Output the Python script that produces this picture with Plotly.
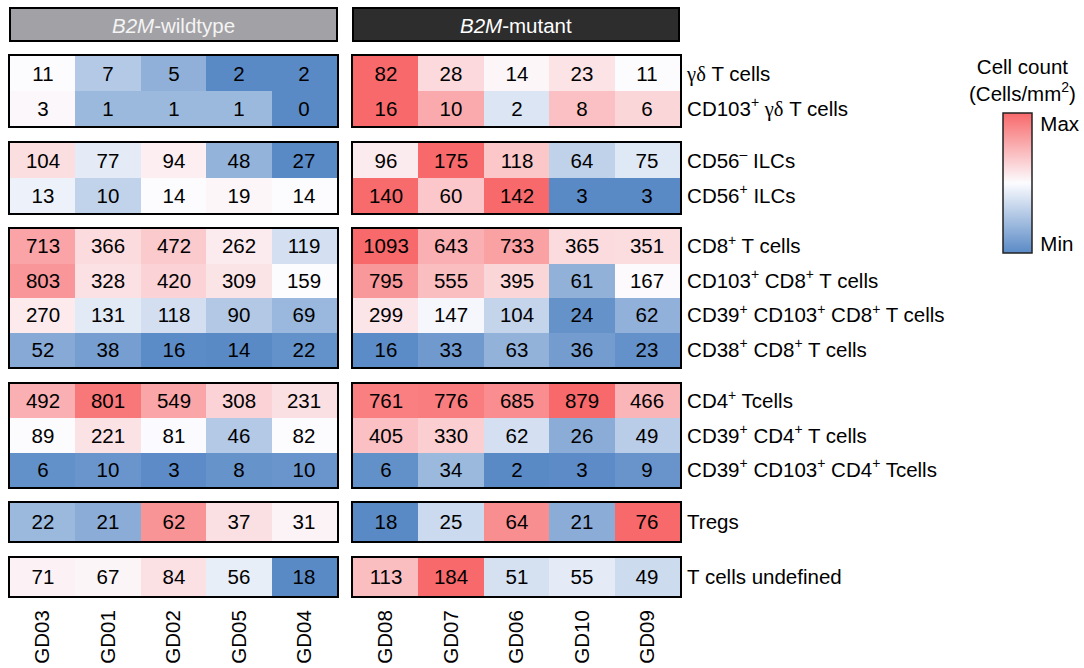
import numpy as np
import plotly.graph_objects as go

# ---------------- data ----------------
wt_samples = ["GD03", "GD01", "GD02", "GD05", "GD04"]
mut_samples = ["GD08", "GD07", "GD06", "GD10", "GD09"]

P = "<sup><span style='font-size:14px'>+</span></sup>"
M = "<sup><span style='font-size:14px'>–</span></sup>"
GD = "<span style=\"font-family:'Liberation Serif'\">γδ</span>"
row_labels = [
    f"{GD} T cells",
    f"CD103{P} {GD} T cells",
    f"CD56{M} ILCs",
    f"CD56{P} ILCs",
    f"CD8{P} T cells",
    f"CD103{P} CD8{P} T cells",
    f"CD39{P} CD103{P} CD8{P} T cells",
    f"CD38{P} CD8{P} T cells",
    f"CD4{P} Tcells",
    f"CD39{P} CD4{P} T cells",
    f"CD39{P} CD103{P} CD4{P} Tcells",
    "Tregs",
    "T cells undefined",
]

wt_values = [
    [11, 7, 5, 2, 2],
    [3, 1, 1, 1, 0],
    [104, 77, 94, 48, 27],
    [13, 10, 14, 19, 14],
    [713, 366, 472, 262, 119],
    [803, 328, 420, 309, 159],
    [270, 131, 118, 90, 69],
    [52, 38, 16, 14, 22],
    [492, 801, 549, 308, 231],
    [89, 221, 81, 46, 82],
    [6, 10, 3, 8, 10],
    [22, 21, 62, 37, 31],
    [71, 67, 84, 56, 18],
]
mut_values = [
    [82, 28, 14, 23, 11],
    [16, 10, 2, 8, 6],
    [96, 175, 118, 64, 75],
    [140, 60, 142, 3, 3],
    [1093, 643, 733, 365, 351],
    [795, 555, 395, 61, 167],
    [299, 147, 104, 24, 62],
    [16, 33, 63, 36, 23],
    [761, 776, 685, 879, 466],
    [405, 330, 62, 26, 49],
    [6, 34, 2, 3, 9],
    [18, 25, 64, 21, 76],
    [113, 184, 51, 55, 49],
]

# rows per boxed block, and rows sharing one min/median/max colour scale
block_sizes = [2, 2, 4, 3, 1, 1]
scale_groups = [[0], [1], [2], [3], [4, 5, 6, 7], [8, 9, 10], [11], [12]]

# ---------------- colour scaling (3-colour scale: min / median / max) ----------------
wt = np.array(wt_values, dtype=float)
mu = np.array(mut_values, dtype=float)
allv = np.hstack([wt, mu])
norm = np.zeros_like(allv)
for g in scale_groups:
    vals = allv[g, :]
    lo, md, hi = vals.min(), np.median(vals), vals.max()
    for r in g:
        for c in range(allv.shape[1]):
            v = allv[r, c]
            if v <= md:
                norm[r, c] = 0.5 * (v - lo) / (md - lo) if md > lo else 0.5
            else:
                norm[r, c] = 0.5 + 0.5 * (v - md) / (hi - md) if hi > md else 0.5
wt_norm = norm[:, :5]
mu_norm = norm[:, 5:]

colorscale = [[0.0, "#5A8AC6"], [0.5, "#FCFCFF"], [1.0, "#F8696B"]]

# ---------------- layout geometry (pixels) ----------------
W, H = 1084, 668
FONT = "Liberation Sans, Arial, sans-serif"
FS = 20.5
block_px = [(56, 126), (143, 213), (229, 367), (384, 487), (503, 541), (558, 596)]
panel_px = [(10, 337), (353, 680)]


def fx(x):
    return x / W


def fy(y):
    return 1 - y / H


fig = go.Figure()
layout_axes = {}
k = 0
row0 = 0
for b, n in enumerate(block_sizes):
    rows = list(range(row0, row0 + n))
    for side in range(2):
        k += 1
        xa = "x" if k == 1 else f"x{k}"
        ya = "y" if k == 1 else f"y{k}"
        samples = wt_samples if side == 0 else mut_samples
        vals = wt_values if side == 0 else mut_values
        zn = wt_norm if side == 0 else mu_norm
        z = [list(zn[r]) for r in rows]
        txt = [[str(v) for v in vals[r]] for r in rows]
        show_cb = (k == 2)
        fig.add_trace(go.Heatmap(
            x=samples, y=list(range(n)), z=z, text=txt,
            texttemplate="%{text}",
            textfont=dict(family=FONT, size=FS, color="black"),
            colorscale=colorscale, zmin=0, zmax=1,
            showscale=show_cb,
            colorbar=dict(
                x=fx(1003), xanchor="left", xpad=0,
                y=fy(182.7), yanchor="middle", ypad=0,
                len=140, lenmode="pixels", thickness=29, thicknessmode="pixels",
                outlinewidth=1.5, outlinecolor="#222",
                tickvals=[0.062, 0.92], ticktext=["Min", "Max"],
                ticks="outside", ticklen=4, tickcolor="rgba(0,0,0,0)",
                tickfont=dict(family=FONT, size=FS, color="black"),
            ) if show_cb else None,
            hoverinfo="skip",
            xaxis=xa, yaxis=ya,
        ))
        x0, x1 = panel_px[side]
        t, bt = block_px[b]
        xkey = "xaxis" if k == 1 else f"xaxis{k}"
        ykey = "yaxis" if k == 1 else f"yaxis{k}"
        last = (b == len(block_sizes) - 1)
        layout_axes[xkey] = dict(
            domain=[fx(x0), fx(x1)], anchor=ya, type="category",
            showline=True, mirror=True, linewidth=2, linecolor="black",
            showgrid=False, zeroline=False, ticks="",
            showticklabels=last, tickangle=-90, ticklabelstandoff=4,
            tickfont=dict(family=FONT, size=FS, color="black"),
            fixedrange=True,
        )
        layout_axes[ykey] = dict(
            domain=[fy(bt), fy(t)], anchor=xa,
            autorange="reversed",
            showline=True, mirror=True, linewidth=2, linecolor="black",
            showgrid=False, zeroline=False, ticks="",
            side="right",
            showticklabels=(side == 1),
            tickvals=list(range(n)), ticktext=[row_labels[r] for r in rows],
            ticklabelstandoff=1,
            tickfont=dict(family=FONT, size=FS, color="black"),
            fixedrange=True,
        )
    row0 += n

# header bars
shapes = [
    dict(type="rect", xref="paper", yref="paper", x0=fx(10), x1=fx(337), y0=fy(41), y1=fy(8),
         fillcolor="#A2A1A5", line=dict(color="black", width=2), layer="above"),
    dict(type="rect", xref="paper", yref="paper", x0=fx(353), x1=fx(679), y0=fy(41), y1=fy(8),
         fillcolor="#2D2D2D", line=dict(color="black", width=2), layer="above"),
]
annotations = [
    dict(text="<i>B2M</i>-wildtype", x=fx(173.5), y=fy(25), xref="paper", yref="paper",
         showarrow=False, font=dict(family=FONT, size=FS, color="#F4F4F4"),
         xanchor="center", yanchor="middle"),
    dict(text="<i>B2M</i>-mutant", x=fx(516), y=fy(25), xref="paper", yref="paper",
         showarrow=False, font=dict(family=FONT, size=FS, color="white"),
         xanchor="center", yanchor="middle"),
    dict(text="Cell count<br>(Cells/mm<sup><span style='font-size:14px'>2</span></sup>)",
         x=fx(1022), y=fy(80), xref="paper", yref="paper",
         showarrow=False, font=dict(family=FONT, size=FS, color="black"),
         xanchor="center", yanchor="middle", align="center"),
]

fig.update_layout(
    width=W, height=H,
    margin=dict(l=0, r=0, t=0, b=0),
    paper_bgcolor="white", plot_bgcolor="white",
    font=dict(family=FONT, size=FS, color="black"),
    shapes=shapes, annotations=annotations,
    showlegend=False,
    **layout_axes,
)

fig.write_html(
    "out.html",
    config={"displayModeBar": False},
    post_script="document.body.style.margin='0px';document.body.style.overflow='hidden';",
)
